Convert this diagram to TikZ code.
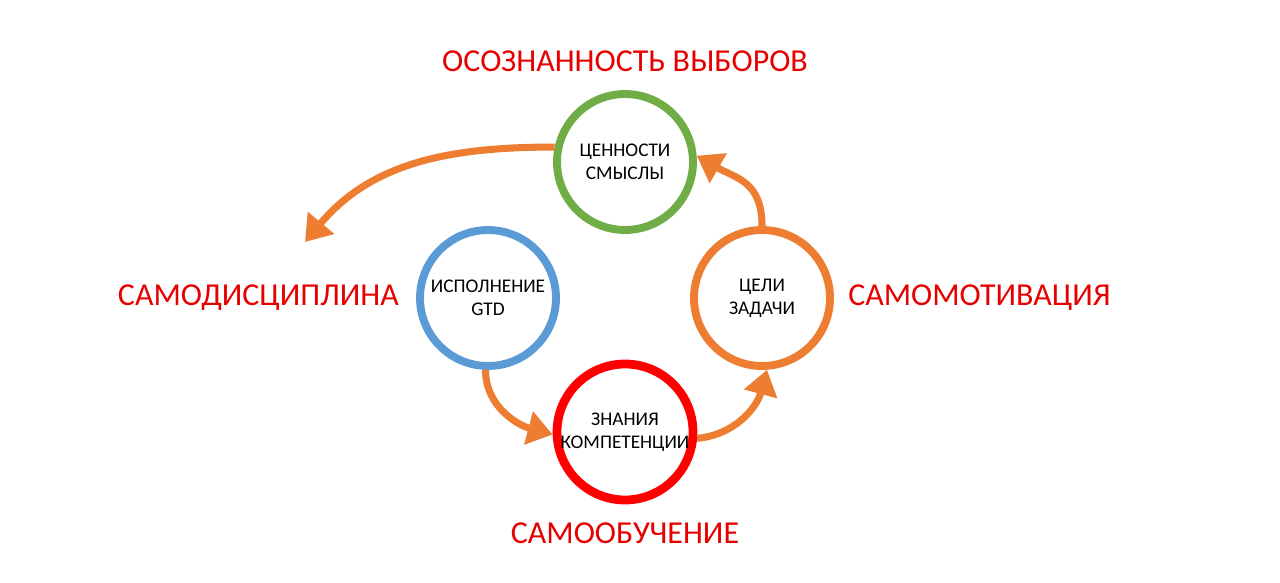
\documentclass[tikz,border=0pt]{standalone}
\usepackage{fontspec}
\setmainfont{Carlito}
\usetikzlibrary{positioning, arrows.meta}
\definecolor{arrorange}{HTML}{ED7D31}
\definecolor{ringgreen}{HTML}{70AD47}
\definecolor{ringblue}{HTML}{5B9BD5}
\definecolor{ringred}{HTML}{FF0000}
\definecolor{tagred}{HTML}{E60000}

\begin{document}
\begin{tikzpicture}[x=0.02cm, y=0.02cm, >={Triangle[length=5mm, width=6.6mm]},
  ring/.style={circle, draw, line width=4.5pt, minimum size=2.72cm, inner sep=0pt,
               align=center, font=\fontsize{11}{13}\selectfont},
  tag/.style={text=tagred, inner sep=0pt, font=\fontsize{18.2}{20}\selectfont},
  flow/.style={->, draw=arrorange, line width=4pt}]
  \useasboundingbox (0,0) rectangle (1280,582);
  % circles
  \node[ring, draw=ringgreen] (val)  at (625,420) {ЦЕННОСТИ\\ СМЫСЛЫ};
  \node[ring, draw=ringblue]  (exe)  at (488,284) {ИСПОЛНЕНИЕ\\ GTD};
  \node[ring, draw=arrorange] (goal) at (762,284) {ЦЕЛИ\\ ЗАДАЧИ};
  \node[ring, draw=ringred, line width=5pt] (know) at (625,150) {ЗНАНИЯ\\ КОМПЕТЕНЦИИ};
  % labels
  \node[tag, above=0.36cm of val]  (aware) {ОСОЗНАННОСТЬ ВЫБОРОВ};
  \node[tag, left=0.34cm of exe]   (disc)  {САМОДИСЦИПЛИНА};
  \node[tag, right=0.28cm of goal] (motiv) {САМОМОТИВАЦИЯ};
  \node[tag, below=0.36cm of know] (learn) {САМООБУЧЕНИЕ};
  % arrows
  \coordinate (pick) at (305,340);
  \draw[flow] (val.168) to[out=180, in=50] (pick);
  \draw[flow] (goal.north) to[out=90, in=-30, looseness=1.2] (val.5);
  \draw[flow] (exe.-92) to[out=-90, in=165] (know.182);
  \draw[flow] (know.-5) to[out=5, in=-105] (goal.-86);
\end{tikzpicture}
\end{document}
